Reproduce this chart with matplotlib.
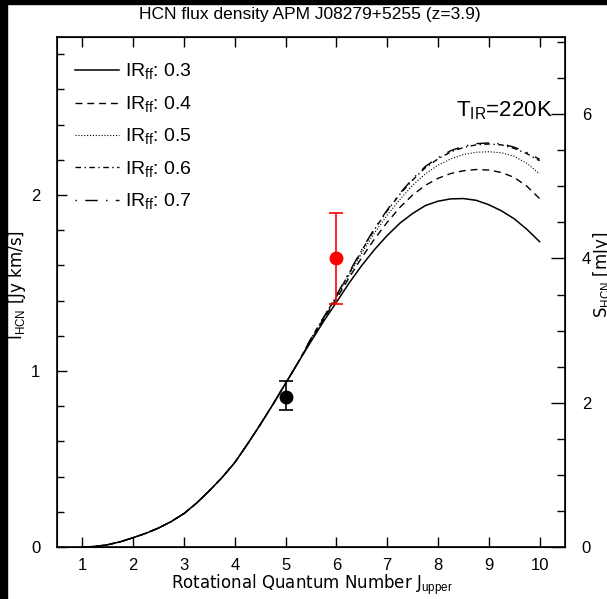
import matplotlib
matplotlib.use("Agg")
import matplotlib.pyplot as plt
from matplotlib.patches import Rectangle
from matplotlib.ticker import MultipleLocator

plt.rcParams['font.family'] = ['Liberation Sans', 'DejaVu Sans']
plt.rcParams['mathtext.fontset'] = 'custom'
plt.rcParams['mathtext.rm'] = 'Liberation Sans'

# model curves (I_HCN in Jy km/s) vs J_upper; all models coincide below J=5.5
j_low = [1, 1.25, 1.5, 1.75, 2, 2.25, 2.5, 2.75, 3, 3.25, 3.5, 3.75, 4, 4.25, 4.5, 4.75, 5, 5.25]
flux_low = [0, 0.003, 0.013, 0.030, 0.053, 0.078, 0.108, 0.145, 0.19, 0.25, 0.32, 0.395,
            0.48, 0.585, 0.695, 0.81, 0.93, 1.05]
j_high = [5.5, 5.75, 6, 6.25, 6.5, 6.75, 7, 7.25, 7.5, 7.75, 8, 8.25, 8.5, 8.75, 9, 9.25, 9.5, 9.75, 10]
ir_03 = [1.168, 1.283, 1.39, 1.50, 1.60, 1.69, 1.77, 1.84, 1.895, 1.94, 1.965, 1.978, 1.98,
         1.97, 1.945, 1.91, 1.865, 1.805, 1.735]
ir_04 = [1.175, 1.295, 1.41, 1.53, 1.645, 1.75, 1.845, 1.93, 2.0, 2.055, 2.095, 2.122, 2.138,
         2.145, 2.142, 2.128, 2.10, 2.05, 1.98]
ir_05 = [1.18, 1.30, 1.42, 1.545, 1.67, 1.785, 1.885, 1.975, 2.055, 2.12, 2.17, 2.205, 2.23,
         2.243, 2.246, 2.24, 2.22, 2.18, 2.12]
ir_06 = [1.185, 1.305, 1.425, 1.555, 1.685, 1.805, 1.91, 2.005, 2.085, 2.155, 2.205, 2.245, 2.27,
         2.285, 2.29, 2.285, 2.265, 2.235, 2.195]
ir_07 = [1.185, 1.305, 1.43, 1.56, 1.69, 1.81, 1.915, 2.01, 2.092, 2.162, 2.212, 2.252, 2.277,
         2.292, 2.296, 2.291, 2.272, 2.242, 2.203]
ir_labels = ['0.3', '0.4', '0.5', '0.6', '0.7']

# observations
obs_j = [5, 6]
obs_flux = [0.85, 1.64]
obs_lo = [0.78, 1.38]
obs_hi = [0.945, 1.90]
obs_colors = ['black', 'red']

styles = [dict(lw=1.1),
          dict(lw=1.0, dashes=(5, 3.5)),
          dict(lw=0.8, dashes=(1, 1.6)),
          dict(lw=1.0, dashes=(4, 2.5, 1, 2.5)),
          dict(lw=1.0, dashes=(1, 6, 9, 6))]

fig = plt.figure(figsize=(6.07, 5.99), dpi=100)
ax = fig.add_axes([57/607, 52/599, 508/607, 510/599])

j_all = j_low + j_high
for curve, lab, st in zip([ir_03, ir_04, ir_05, ir_06, ir_07], ir_labels, styles):
    ax.plot(j_all, flux_low + curve, color='black', label=r'IR$_{\rm ff}$: ' + lab, **st)

for j, f, lo, hi, c in zip(obs_j, obs_flux, obs_lo, obs_hi, obs_colors):
    ax.errorbar([j], [f], yerr=[[f - lo], [hi - f]], fmt='o', color=c,
                markersize=9, capsize=5, elinewidth=1.2, capthick=1.2)

ax.set_xlim(0.5, 10.5)
ax.set_ylim(0, 2.898)
ax.xaxis.set_major_locator(MultipleLocator(1))
ax.yaxis.set_major_locator(MultipleLocator(1))
ax.yaxis.set_minor_locator(MultipleLocator(0.2))
ax.tick_params(axis='x', which='major', direction='in', top=True, length=7, width=1, labelsize=12, pad=8)
ax.tick_params(axis='y', which='major', direction='in', length=7, width=1, labelsize=12, pad=12)
ax.tick_params(axis='y', which='minor', direction='in', length=5, width=1)
for s in ax.spines.values():
    s.set_linewidth(1.2)

ax2 = ax.twinx()
ax2.set_ylim(0, 7.07)
ax2.yaxis.set_major_locator(MultipleLocator(2))
ax2.yaxis.set_minor_locator(MultipleLocator(0.5))
ax2.tick_params(axis='y', which='major', direction='in', length=10, width=1, labelsize=12, pad=12)
ax2.tick_params(axis='y', which='minor', direction='in', length=6, width=1)

dv = dict(family='DejaVu Sans', fontsize=12, ha='center', va='center')
fig.text(312/607, 1 - 585/599, r'Rotational Quantum Number J$_{\rm upper}$', **dv)
fig.text(17/607, 1 - 285/599, r'I$_{\rm HCN}$ [Jy km/s]', rotation=90, **dv)
fig.text(602/607, 1 - 275/599, r'S$_{\rm HCN}$ [mJy]', rotation=90, **dv)
fig.text(310/607, 1 - 14/599, 'HCN flux density APM J08279+5255 (z=3.9)', fontsize=12.5,
         ha='center', va='center')
ax.text(0.975, 0.855, r'T$_{\rm IR}$=220K', transform=ax.transAxes, fontsize=16,
        ha='right', va='center')

ax.legend(loc='upper left', bbox_to_anchor=(0.0, 0.985), frameon=False, fontsize=14,
          handlelength=2.3, handletextpad=0.3, labelspacing=0.62)

# black border strips of the original scan
fig.add_artist(Rectangle((0, 0), 7/607, 1, transform=fig.transFigure, color='black', zorder=10))
fig.add_artist(Rectangle((0, 1 - 4/599), 1, 4/599, transform=fig.transFigure, color='black', zorder=10))

fig.savefig('out.png', dpi=100, facecolor='white')
